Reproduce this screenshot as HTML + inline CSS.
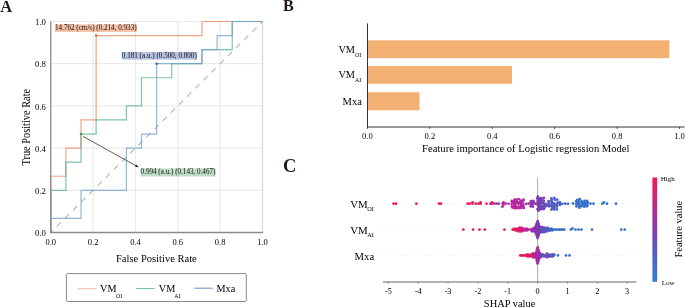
<!DOCTYPE html>
<html><head><meta charset="utf-8"><style>
html,body{margin:0;padding:0;background:#fff;width:685px;height:308px;overflow:hidden}
svg{display:block;will-change:transform}
svg text{font-family:"Liberation Serif",serif}
</style></head><body>
<svg width="685" height="308" viewBox="0 0 685 308">
<rect width="685" height="308" fill="#fff"/>
<g id="A">
<text x="0.3" y="12" font-size="16.5" font-weight="bold" fill="#231815">A</text>
<line x1="93.10" y1="21.50" x2="93.10" y2="232.50" stroke="#ebebeb" stroke-width="1.2"/>
<line x1="50.75" y1="190.30" x2="262.50" y2="190.30" stroke="#ebebeb" stroke-width="1.2"/>
<line x1="135.45" y1="21.50" x2="135.45" y2="232.50" stroke="#ebebeb" stroke-width="1.2"/>
<line x1="50.75" y1="148.10" x2="262.50" y2="148.10" stroke="#ebebeb" stroke-width="1.2"/>
<line x1="177.80" y1="21.50" x2="177.80" y2="232.50" stroke="#ebebeb" stroke-width="1.2"/>
<line x1="50.75" y1="105.90" x2="262.50" y2="105.90" stroke="#ebebeb" stroke-width="1.2"/>
<line x1="220.15" y1="21.50" x2="220.15" y2="232.50" stroke="#ebebeb" stroke-width="1.2"/>
<line x1="50.75" y1="63.70" x2="262.50" y2="63.70" stroke="#ebebeb" stroke-width="1.2"/>
<line x1="262.50" y1="21.50" x2="262.50" y2="232.50" stroke="#d8d8dc" stroke-width="1.2"/>
<line x1="50.75" y1="21.50" x2="262.50" y2="21.50" stroke="#ebebeb" stroke-width="1.2"/>
<line x1="50.75" y1="232.5" x2="262.5" y2="21.5" stroke="#b4b4b4" stroke-width="1.1" stroke-dasharray="5.9 5.6" stroke-dashoffset="2.97"/>
<path d="M50.75,232.50 L50.75,176.23 L65.88,176.23 L65.88,148.10 L81.00,148.10 L81.00,119.97 L96.12,119.97 L96.12,35.57 L202.00,35.57 L202.00,21.50 L262.50,21.50" fill="none" stroke="#ec865e" stroke-opacity="0.75" stroke-width="1.2"/>
<path d="M50.75,232.50 L50.75,190.30 L65.88,190.30 L65.88,162.17 L81.00,162.17 L81.00,134.03 L96.12,134.03 L96.12,119.97 L126.38,119.97 L126.38,105.90 L141.50,105.90 L141.50,77.77 L171.75,77.77 L171.75,63.70 L202.00,63.70 L202.00,49.63 L232.25,49.63 L232.25,21.50 L262.50,21.50" fill="none" stroke="#56b08b" stroke-opacity="0.75" stroke-width="1.2"/>
<path d="M50.75,232.50 L50.75,218.43 L81.00,218.43 L81.00,190.30 L126.38,190.30 L126.38,148.10 L141.50,148.10 L141.50,134.03 L156.62,134.03 L156.62,63.70 L202.00,63.70 L202.00,49.63 L217.12,49.63 L217.12,35.57 L232.25,35.57 L232.25,21.50 L262.50,21.50" fill="none" stroke="#6e9ecc" stroke-opacity="0.75" stroke-width="1.2"/>
<line x1="50.75" y1="21.5" x2="50.75" y2="233.1" stroke="#8a8a8a" stroke-width="1.3"/>
<line x1="50.15" y1="232.5" x2="263.1" y2="232.5" stroke="#8a8a8a" stroke-width="1.3"/>
<text x="45.9" y="236.10" font-size="8.7" text-anchor="end" fill="#000">0.0</text>
<text x="50.75" y="245.2" font-size="8.5" text-anchor="middle" fill="#000">0.0</text>
<text x="45.9" y="193.90" font-size="8.7" text-anchor="end" fill="#000">0.2</text>
<text x="93.10" y="245.2" font-size="8.5" text-anchor="middle" fill="#000">0.2</text>
<text x="45.9" y="151.70" font-size="8.7" text-anchor="end" fill="#000">0.4</text>
<text x="135.45" y="245.2" font-size="8.5" text-anchor="middle" fill="#000">0.4</text>
<text x="45.9" y="109.50" font-size="8.7" text-anchor="end" fill="#000">0.6</text>
<text x="177.80" y="245.2" font-size="8.5" text-anchor="middle" fill="#000">0.6</text>
<text x="45.9" y="67.30" font-size="8.7" text-anchor="end" fill="#000">0.8</text>
<text x="220.15" y="245.2" font-size="8.5" text-anchor="middle" fill="#000">0.8</text>
<text x="45.9" y="25.10" font-size="8.7" text-anchor="end" fill="#000">1.0</text>
<text x="262.50" y="245.2" font-size="8.5" text-anchor="middle" fill="#000">1.0</text>
<text transform="translate(29.7,165.5) rotate(-90)" font-size="11.6" textLength="76.6" lengthAdjust="spacingAndGlyphs" fill="#000">True Positive Rate</text>
<text x="116.0" y="262.1" font-size="10.9" textLength="80.8" lengthAdjust="spacingAndGlyphs" fill="#000">False Positive Rate</text>
<rect x="54.9" y="24.4" width="82.1" height="7.5" fill="#f7bfa3"/>
<text x="55.0" y="30.1" font-size="7.2" fill="#111" lengthAdjust="spacingAndGlyphs" textLength="81.6">14.762 (cm/s) (0.214, 0.933)</text>
<rect x="121.8" y="52.0" width="75.3" height="7.6" fill="#b7c2e2"/>
<text x="121.8" y="57.5" font-size="7.2" fill="#111" lengthAdjust="spacingAndGlyphs" textLength="75.0">0.181 (a.u.) (0.500, 0.800)</text>
<rect x="140.6" y="168.4" width="75.1" height="8.1" fill="#bfdcc8"/>
<text x="140.6" y="174.1" font-size="7.2" fill="#111" lengthAdjust="spacingAndGlyphs" textLength="74.8">0.994 (a.u.) (0.143, 0.467)</text>
<line x1="82.9" y1="136.3" x2="136.2" y2="165.9" stroke="#444" stroke-width="0.85"/>
<path d="M138.8,167.3 L135.0,166.7 L136.3,164.4 Z" fill="#222"/>
<circle cx="96.12" cy="35.57" r="1.3" fill="#e8602c"/>
<circle cx="156.62" cy="63.70" r="1.3" fill="#3a6fb0"/>
<circle cx="81.00" cy="134.03" r="1.3" fill="#3f9a70"/>
<rect x="66.4" y="273.6" width="179.9" height="27.9" rx="1.2" fill="#fff" stroke="#8a8a8a" stroke-width="1"/>
<line x1="78" y1="288.7" x2="96.6" y2="288.7" stroke="#f5bca8" stroke-width="1.1"/>
<line x1="136.2" y1="288.5" x2="154.7" y2="288.5" stroke="#7cc3a8" stroke-width="1.1"/>
<line x1="194.1" y1="288.2" x2="212.7" y2="288.2" stroke="#6f9dcc" stroke-width="1.1"/>
<text x="100.1" y="291.7" font-size="10.2" fill="#000">VM</text><text x="116" y="298.3" font-size="5.8" fill="#000">OI</text>
<text x="158.8" y="291.7" font-size="10.2" fill="#000">VM</text><text x="174.3" y="298.3" font-size="5.8" fill="#000">AI</text>
<text x="216.5" y="291.5" font-size="10.2" fill="#000">Mxa</text>
</g>
<g id="B">
<text x="283.1" y="11.4" font-size="16.2" font-weight="bold" fill="#231815">B</text>
<rect x="367.5" y="40.3" width="301.90" height="17.90" fill="#f2b173"/>
<rect x="367.5" y="66.0" width="144.50" height="17.80" fill="#f2b173"/>
<rect x="367.5" y="92.2" width="52.00" height="18.10" fill="#f2b173"/>
<line x1="367.5" y1="23.4" x2="367.5" y2="127.5" stroke="#333" stroke-width="1"/>
<line x1="367.0" y1="127" x2="684.5" y2="127" stroke="#333" stroke-width="1"/>
<line x1="367.40" y1="127" x2="367.40" y2="129" stroke="#333" stroke-width="0.8"/>
<text x="367.40" y="138.8" font-size="8.5" text-anchor="middle" fill="#000">0.0</text>
<line x1="429.82" y1="127" x2="429.82" y2="129" stroke="#333" stroke-width="0.8"/>
<text x="429.82" y="138.8" font-size="8.5" text-anchor="middle" fill="#000">0.2</text>
<line x1="492.24" y1="127" x2="492.24" y2="129" stroke="#333" stroke-width="0.8"/>
<text x="492.24" y="138.8" font-size="8.5" text-anchor="middle" fill="#000">0.4</text>
<line x1="554.66" y1="127" x2="554.66" y2="129" stroke="#333" stroke-width="0.8"/>
<text x="554.66" y="138.8" font-size="8.5" text-anchor="middle" fill="#000">0.6</text>
<line x1="617.08" y1="127" x2="617.08" y2="129" stroke="#333" stroke-width="0.8"/>
<text x="617.08" y="138.8" font-size="8.5" text-anchor="middle" fill="#000">0.8</text>
<line x1="679.50" y1="127" x2="679.50" y2="129" stroke="#333" stroke-width="0.8"/>
<text x="679.50" y="138.8" font-size="8.5" text-anchor="middle" fill="#000">1.0</text>
<text x="525.8" y="152.3" font-size="10.6" text-anchor="middle" fill="#000">Feature importance of Logistic regression Model</text>
<text x="338.4" y="52.8" font-size="10.3" fill="#000">VM</text><text x="355" y="56.7" font-size="5.9" fill="#000">OI</text>
<text x="338.4" y="78.4" font-size="10.3" fill="#000">VM</text><text x="355" y="82.3" font-size="5.9" fill="#000">AI</text>
<text x="361.8" y="105.1" font-size="10.5" text-anchor="end" fill="#000">Mxa</text>
</g>
<g id="C">
<text x="283.0" y="171.6" font-size="18.4" font-weight="bold" fill="#231815">C</text>
<line x1="382.9" y1="203.7" x2="636.5" y2="203.7" stroke="#e2e2e2" stroke-width="0.6" stroke-dasharray="0.8 1.6"/>
<line x1="382.9" y1="229.6" x2="636.5" y2="229.6" stroke="#e2e2e2" stroke-width="0.6" stroke-dasharray="0.8 1.6"/>
<line x1="382.9" y1="255.4" x2="636.5" y2="255.4" stroke="#e2e2e2" stroke-width="0.6" stroke-dasharray="0.8 1.6"/>
<line x1="537.6" y1="177.6" x2="537.6" y2="281.7" stroke="#aaa" stroke-width="1"/>
<circle cx="393.60" cy="203.70" r="1.35" fill="#f01858"/><circle cx="396.00" cy="203.70" r="1.35" fill="#f01858"/><circle cx="416.40" cy="203.70" r="1.35" fill="#f01858"/><circle cx="439.00" cy="203.70" r="1.35" fill="#f01858"/><circle cx="441.00" cy="203.70" r="1.35" fill="#f01858"/><circle cx="467.60" cy="203.70" r="1.35" fill="#f01858"/><circle cx="469.60" cy="203.70" r="1.35" fill="#f01858"/><circle cx="472.50" cy="203.70" r="1.35" fill="#f01858"/><circle cx="472.50" cy="202.30" r="1.35" fill="#f01858"/><circle cx="475.80" cy="203.70" r="1.35" fill="#f01858"/><circle cx="478.50" cy="203.70" r="1.35" fill="#f01858"/><circle cx="480.60" cy="203.70" r="1.35" fill="#f01858"/><circle cx="480.60" cy="202.30" r="1.35" fill="#ed195c"/><circle cx="486.50" cy="203.70" r="1.35" fill="#eb195e"/><circle cx="490.50" cy="203.70" r="1.35" fill="#e81a62"/><circle cx="492.00" cy="203.70" r="1.35" fill="#e81a62"/><circle cx="492.00" cy="202.30" r="1.35" fill="#e81a62"/><circle cx="494.24" cy="203.49" r="1.35" fill="#aa2aa3"/><circle cx="496.40" cy="203.72" r="1.35" fill="#a12ea6"/><circle cx="498.72" cy="203.70" r="1.35" fill="#9732aa"/><circle cx="502.65" cy="203.44" r="1.35" fill="#ae29a2"/><circle cx="503.53" cy="204.87" r="1.35" fill="#b127a1"/><circle cx="503.61" cy="202.35" r="1.35" fill="#b526a0"/><circle cx="502.38" cy="206.72" r="1.35" fill="#b327a0"/><circle cx="505.81" cy="203.59" r="1.35" fill="#b7259f"/><circle cx="508.60" cy="203.75" r="1.35" fill="#b128a1"/><circle cx="511.74" cy="203.73" r="1.35" fill="#ae29a2"/><circle cx="512.55" cy="202.26" r="1.35" fill="#b426a0"/><circle cx="511.79" cy="206.38" r="1.35" fill="#be2399"/><circle cx="511.65" cy="200.94" r="1.35" fill="#b9249e"/><circle cx="512.59" cy="207.77" r="1.35" fill="#c12395"/><circle cx="514.02" cy="203.85" r="1.35" fill="#ad29a2"/><circle cx="514.35" cy="205.20" r="1.35" fill="#bb249d"/><circle cx="514.94" cy="202.19" r="1.35" fill="#ba249e"/><circle cx="514.13" cy="206.47" r="1.35" fill="#bc249b"/><circle cx="514.06" cy="201.00" r="1.35" fill="#ab2aa3"/><circle cx="514.78" cy="208.20" r="1.35" fill="#bc249b"/><circle cx="514.60" cy="199.60" r="1.35" fill="#aa2aa3"/><circle cx="516.30" cy="203.50" r="1.35" fill="#a92ba4"/><circle cx="516.67" cy="202.15" r="1.35" fill="#b028a1"/><circle cx="516.03" cy="206.47" r="1.35" fill="#b327a0"/><circle cx="516.55" cy="201.12" r="1.35" fill="#ad29a2"/><circle cx="516.83" cy="208.13" r="1.35" fill="#bc249b"/><circle cx="516.70" cy="199.34" r="1.35" fill="#ac2aa3"/><circle cx="518.56" cy="203.75" r="1.35" fill="#aa2aa3"/><circle cx="519.08" cy="202.34" r="1.35" fill="#ba249e"/><circle cx="518.59" cy="206.57" r="1.35" fill="#b327a0"/><circle cx="519.37" cy="208.12" r="1.35" fill="#b6269f"/><circle cx="519.10" cy="199.26" r="1.35" fill="#b227a1"/><circle cx="520.52" cy="203.44" r="1.35" fill="#a52ca5"/><circle cx="521.31" cy="204.83" r="1.35" fill="#a12ea6"/><circle cx="521.15" cy="202.22" r="1.35" fill="#a12ea6"/><circle cx="520.90" cy="206.29" r="1.35" fill="#a62ca5"/><circle cx="520.73" cy="200.67" r="1.35" fill="#b426a0"/><circle cx="521.40" cy="207.89" r="1.35" fill="#a32da6"/><circle cx="522.96" cy="203.56" r="1.35" fill="#b128a1"/><circle cx="523.34" cy="205.37" r="1.35" fill="#aa2ba3"/><circle cx="522.74" cy="206.52" r="1.35" fill="#b426a0"/><circle cx="523.21" cy="200.76" r="1.35" fill="#a62ca5"/><circle cx="523.87" cy="207.92" r="1.35" fill="#b028a1"/><circle cx="523.48" cy="199.69" r="1.35" fill="#b426a0"/><circle cx="526.20" cy="203.88" r="1.35" fill="#a82ba4"/><circle cx="528.62" cy="203.54" r="1.35" fill="#9c30a8"/><circle cx="530.72" cy="203.42" r="1.35" fill="#8838af"/><circle cx="531.26" cy="205.22" r="1.35" fill="#9d2fa8"/><circle cx="531.73" cy="202.59" r="1.35" fill="#9d2fa8"/><circle cx="530.63" cy="206.34" r="1.35" fill="#8c36ad"/><circle cx="530.91" cy="201.14" r="1.35" fill="#9b31a8"/><circle cx="533.06" cy="203.79" r="1.35" fill="#9533aa"/><circle cx="533.96" cy="202.47" r="1.35" fill="#9433ab"/><circle cx="532.85" cy="206.67" r="1.35" fill="#8a37ae"/><circle cx="533.41" cy="200.84" r="1.35" fill="#8c36ad"/><circle cx="535.51" cy="203.83" r="1.35" fill="#803bb1"/><circle cx="537.29" cy="203.49" r="1.35" fill="#8a37ae"/><circle cx="537.90" cy="205.30" r="1.35" fill="#8b37ae"/><circle cx="538.05" cy="202.33" r="1.35" fill="#7940b4"/><circle cx="537.65" cy="200.92" r="1.35" fill="#8a37ae"/><circle cx="538.41" cy="208.10" r="1.35" fill="#7a3fb3"/><circle cx="538.01" cy="199.34" r="1.35" fill="#823ab1"/><circle cx="537.49" cy="209.08" r="1.35" fill="#8a37ae"/><circle cx="537.52" cy="198.15" r="1.35" fill="#8a37ae"/><circle cx="538.44" cy="210.70" r="1.35" fill="#813bb1"/><circle cx="537.81" cy="196.66" r="1.35" fill="#7a3fb4"/><circle cx="539.30" cy="203.88" r="1.35" fill="#7542b5"/><circle cx="540.41" cy="205.13" r="1.35" fill="#7940b4"/><circle cx="540.29" cy="202.47" r="1.35" fill="#7443b5"/><circle cx="539.47" cy="206.37" r="1.35" fill="#823ab1"/><circle cx="539.69" cy="201.06" r="1.35" fill="#8539b0"/><circle cx="540.33" cy="207.90" r="1.35" fill="#7c3db3"/><circle cx="540.22" cy="199.52" r="1.35" fill="#7c3eb3"/><circle cx="539.79" cy="209.53" r="1.35" fill="#8639af"/><circle cx="539.69" cy="198.37" r="1.35" fill="#843ab0"/><circle cx="541.66" cy="203.44" r="1.35" fill="#6b49b9"/><circle cx="542.50" cy="202.54" r="1.35" fill="#694bb9"/><circle cx="541.81" cy="206.29" r="1.35" fill="#7840b4"/><circle cx="541.50" cy="201.17" r="1.35" fill="#6e47b8"/><circle cx="542.64" cy="208.10" r="1.35" fill="#694bb9"/><circle cx="542.31" cy="199.40" r="1.35" fill="#6a4ab9"/><circle cx="541.86" cy="209.01" r="1.35" fill="#7145b7"/><circle cx="541.36" cy="198.00" r="1.35" fill="#7244b6"/><circle cx="543.71" cy="203.44" r="1.35" fill="#7642b5"/><circle cx="544.63" cy="204.86" r="1.35" fill="#674cba"/><circle cx="543.54" cy="206.28" r="1.35" fill="#6a4ab9"/><circle cx="543.92" cy="200.76" r="1.35" fill="#654ebb"/><circle cx="544.35" cy="208.02" r="1.35" fill="#644ebb"/><circle cx="543.65" cy="209.04" r="1.35" fill="#7542b5"/><circle cx="543.91" cy="197.85" r="1.35" fill="#7344b6"/><circle cx="545.77" cy="203.92" r="1.35" fill="#6150bc"/><circle cx="546.71" cy="205.36" r="1.35" fill="#5d53bd"/><circle cx="545.89" cy="206.27" r="1.35" fill="#5b54be"/><circle cx="548.62" cy="203.59" r="1.35" fill="#5a55bf"/><circle cx="549.28" cy="205.10" r="1.35" fill="#5857bf"/><circle cx="549.09" cy="202.15" r="1.35" fill="#5459c1"/><circle cx="548.86" cy="206.31" r="1.35" fill="#5d53bd"/><circle cx="548.55" cy="201.09" r="1.35" fill="#5d53be"/><circle cx="551.53" cy="203.90" r="1.35" fill="#525bc1"/><circle cx="552.26" cy="205.39" r="1.35" fill="#515cc2"/><circle cx="552.28" cy="202.38" r="1.35" fill="#525bc1"/><circle cx="551.22" cy="206.28" r="1.35" fill="#4b5fc4"/><circle cx="551.36" cy="200.70" r="1.35" fill="#4c5fc4"/><circle cx="552.39" cy="208.00" r="1.35" fill="#505cc2"/><circle cx="551.99" cy="199.48" r="1.35" fill="#4d5ec3"/><circle cx="551.37" cy="209.58" r="1.35" fill="#5d53bd"/><circle cx="551.35" cy="198.38" r="1.35" fill="#505cc2"/><circle cx="554.10" cy="203.40" r="1.35" fill="#4e5ec3"/><circle cx="554.80" cy="204.92" r="1.35" fill="#505cc2"/><circle cx="553.91" cy="206.44" r="1.35" fill="#4763c5"/><circle cx="554.61" cy="207.95" r="1.35" fill="#515cc2"/><circle cx="554.91" cy="199.63" r="1.35" fill="#5857bf"/><circle cx="554.08" cy="209.59" r="1.35" fill="#4961c5"/><circle cx="554.30" cy="197.83" r="1.35" fill="#5758c0"/><circle cx="557.14" cy="203.78" r="1.35" fill="#515cc2"/><circle cx="557.21" cy="205.11" r="1.35" fill="#4c5fc3"/><circle cx="557.68" cy="202.50" r="1.35" fill="#4e5ec3"/><circle cx="556.99" cy="206.62" r="1.35" fill="#4763c5"/><circle cx="557.19" cy="199.70" r="1.35" fill="#4d5ec3"/><circle cx="556.96" cy="209.41" r="1.35" fill="#4c5fc4"/><circle cx="559.66" cy="203.85" r="1.35" fill="#4465c6"/><circle cx="560.16" cy="204.84" r="1.35" fill="#4961c5"/><circle cx="559.75" cy="202.16" r="1.35" fill="#4961c5"/><circle cx="562.33" cy="203.84" r="1.35" fill="#4763c5"/><circle cx="565.20" cy="203.63" r="1.35" fill="#3c6ac9"/><circle cx="568.00" cy="203.86" r="1.35" fill="#3d69c9"/><circle cx="573.05" cy="203.45" r="1.35" fill="#3172cd"/><circle cx="576.28" cy="203.85" r="1.35" fill="#3271cd"/><circle cx="576.71" cy="204.84" r="1.35" fill="#3172cd"/><circle cx="577.18" cy="202.41" r="1.35" fill="#3271cd"/><circle cx="576.43" cy="206.48" r="1.35" fill="#2e74ce"/><circle cx="576.24" cy="201.19" r="1.35" fill="#3f68c8"/><circle cx="577.27" cy="199.78" r="1.35" fill="#356fcc"/><circle cx="578.79" cy="203.53" r="1.35" fill="#3f68c8"/><circle cx="579.61" cy="204.89" r="1.35" fill="#366ecb"/><circle cx="579.29" cy="202.49" r="1.35" fill="#366ecb"/><circle cx="579.09" cy="206.34" r="1.35" fill="#3e69c8"/><circle cx="578.62" cy="200.60" r="1.35" fill="#366fcb"/><circle cx="579.41" cy="207.68" r="1.35" fill="#3371cc"/><circle cx="579.79" cy="199.20" r="1.35" fill="#3b6bc9"/><circle cx="581.94" cy="203.47" r="1.35" fill="#3d6ac9"/><circle cx="582.58" cy="204.97" r="1.35" fill="#3172cd"/><circle cx="582.65" cy="202.35" r="1.35" fill="#3172cd"/><circle cx="581.54" cy="206.23" r="1.35" fill="#2e74ce"/><circle cx="581.55" cy="201.16" r="1.35" fill="#2f73ce"/><circle cx="584.29" cy="203.71" r="1.35" fill="#2e74ce"/><circle cx="585.37" cy="205.33" r="1.35" fill="#3a6bca"/><circle cx="585.34" cy="202.56" r="1.35" fill="#356fcc"/><circle cx="584.13" cy="206.64" r="1.35" fill="#3370cc"/><circle cx="584.55" cy="200.77" r="1.35" fill="#2e74ce"/><circle cx="587.25" cy="203.48" r="1.35" fill="#3370cc"/><circle cx="587.41" cy="205.24" r="1.35" fill="#3e69c9"/><circle cx="587.66" cy="202.18" r="1.35" fill="#356fcb"/><circle cx="586.72" cy="206.30" r="1.35" fill="#2e74ce"/><circle cx="586.95" cy="200.73" r="1.35" fill="#3c6ac9"/><circle cx="590.50" cy="203.70" r="1.35" fill="#3271cd"/><circle cx="593.50" cy="203.70" r="1.35" fill="#3271cd"/><circle cx="602.30" cy="203.70" r="1.35" fill="#3271cd"/><circle cx="604.00" cy="202.40" r="1.35" fill="#3271cd"/><circle cx="607.00" cy="203.70" r="1.35" fill="#3271cd"/><circle cx="616.00" cy="203.70" r="1.35" fill="#2e74ce"/><circle cx="463.30" cy="229.60" r="1.35" fill="#f01858"/><circle cx="473.10" cy="229.60" r="1.35" fill="#f01858"/><circle cx="479.50" cy="229.60" r="1.35" fill="#f01858"/><circle cx="484.80" cy="229.60" r="1.35" fill="#f01858"/><circle cx="504.40" cy="229.60" r="1.35" fill="#f01858"/><circle cx="512.65" cy="229.60" r="1.35" fill="#ea195f"/><circle cx="513.87" cy="229.60" r="1.35" fill="#e91a61"/><circle cx="513.91" cy="228.75" r="1.35" fill="#f01858"/><circle cx="515.82" cy="229.60" r="1.35" fill="#e71a64"/><circle cx="515.56" cy="230.45" r="1.35" fill="#e11b6b"/><circle cx="515.98" cy="228.75" r="1.35" fill="#e81a62"/><circle cx="517.31" cy="229.60" r="1.35" fill="#e01b6c"/><circle cx="517.04" cy="230.45" r="1.35" fill="#e41b68"/><circle cx="517.46" cy="228.75" r="1.35" fill="#dd1c70"/><circle cx="518.51" cy="229.60" r="1.35" fill="#e41b68"/><circle cx="518.89" cy="230.45" r="1.35" fill="#dc1d72"/><circle cx="519.06" cy="228.75" r="1.35" fill="#e51a66"/><circle cx="518.56" cy="231.30" r="1.35" fill="#de1c70"/><circle cx="519.14" cy="227.90" r="1.35" fill="#e01c6d"/><circle cx="520.69" cy="229.60" r="1.35" fill="#d91d76"/><circle cx="520.31" cy="228.75" r="1.35" fill="#da1d74"/><circle cx="520.24" cy="231.30" r="1.35" fill="#da1d74"/><circle cx="520.23" cy="227.90" r="1.35" fill="#d91d76"/><circle cx="522.22" cy="229.60" r="1.35" fill="#ce1f83"/><circle cx="521.82" cy="230.45" r="1.35" fill="#d21f7f"/><circle cx="522.27" cy="228.75" r="1.35" fill="#d21f7e"/><circle cx="521.99" cy="231.30" r="1.35" fill="#d61e7a"/><circle cx="521.83" cy="227.90" r="1.35" fill="#d61e7a"/><circle cx="523.78" cy="229.60" r="1.35" fill="#c8218b"/><circle cx="523.64" cy="230.45" r="1.35" fill="#c32292"/><circle cx="523.96" cy="228.75" r="1.35" fill="#ca2089"/><circle cx="525.67" cy="229.60" r="1.35" fill="#bc249c"/><circle cx="525.37" cy="230.45" r="1.35" fill="#bc249b"/><circle cx="525.68" cy="228.75" r="1.35" fill="#c8218c"/><circle cx="527.16" cy="229.60" r="1.35" fill="#b526a0"/><circle cx="527.28" cy="230.45" r="1.35" fill="#b327a0"/><circle cx="526.97" cy="228.75" r="1.35" fill="#b327a0"/><circle cx="528.44" cy="229.60" r="1.35" fill="#ac2aa3"/><circle cx="530.53" cy="229.60" r="1.35" fill="#af28a2"/><circle cx="532.40" cy="229.60" r="1.35" fill="#9a31a9"/><circle cx="532.22" cy="228.75" r="1.35" fill="#a22ea6"/><circle cx="531.96" cy="231.30" r="1.35" fill="#9632aa"/><circle cx="534.00" cy="229.60" r="1.35" fill="#a22da6"/><circle cx="533.95" cy="228.75" r="1.35" fill="#9f2fa7"/><circle cx="534.10" cy="231.30" r="1.35" fill="#9732aa"/><circle cx="534.44" cy="227.90" r="1.35" fill="#9533aa"/><circle cx="537.72" cy="221.10" r="1.35" fill="#7c3db3"/><circle cx="537.57" cy="221.95" r="1.35" fill="#8b37ae"/><circle cx="537.68" cy="222.80" r="1.35" fill="#7d3db2"/><circle cx="537.46" cy="223.65" r="1.35" fill="#7d3db2"/><circle cx="537.73" cy="224.50" r="1.35" fill="#803bb1"/><circle cx="537.67" cy="225.35" r="1.35" fill="#8c36ad"/><circle cx="537.55" cy="226.20" r="1.35" fill="#813bb1"/><circle cx="537.74" cy="227.05" r="1.35" fill="#8738af"/><circle cx="537.53" cy="227.90" r="1.35" fill="#8938ae"/><circle cx="537.54" cy="228.75" r="1.35" fill="#813bb1"/><circle cx="537.45" cy="229.60" r="1.35" fill="#8a37ae"/><circle cx="537.72" cy="230.45" r="1.35" fill="#8738af"/><circle cx="537.73" cy="231.30" r="1.35" fill="#7c3db3"/><circle cx="537.52" cy="232.15" r="1.35" fill="#8439b0"/><circle cx="537.74" cy="233.00" r="1.35" fill="#8d36ad"/><circle cx="537.57" cy="233.85" r="1.35" fill="#803bb1"/><circle cx="537.58" cy="234.70" r="1.35" fill="#8539b0"/><circle cx="537.73" cy="235.55" r="1.35" fill="#7f3cb2"/><circle cx="537.69" cy="236.40" r="1.35" fill="#8937ae"/><circle cx="537.70" cy="237.25" r="1.35" fill="#8a37ae"/><circle cx="537.63" cy="238.10" r="1.35" fill="#823bb1"/><circle cx="536.65" cy="223.65" r="1.35" fill="#823ab1"/><circle cx="536.78" cy="224.50" r="1.35" fill="#7d3db2"/><circle cx="536.61" cy="225.35" r="1.35" fill="#8a37ae"/><circle cx="536.62" cy="226.20" r="1.35" fill="#7d3db2"/><circle cx="536.56" cy="227.05" r="1.35" fill="#8639af"/><circle cx="536.65" cy="227.90" r="1.35" fill="#8e36ad"/><circle cx="536.82" cy="228.75" r="1.35" fill="#8e36ad"/><circle cx="536.63" cy="229.60" r="1.35" fill="#7d3cb2"/><circle cx="536.58" cy="230.45" r="1.35" fill="#8539b0"/><circle cx="536.76" cy="231.30" r="1.35" fill="#843ab0"/><circle cx="536.62" cy="232.15" r="1.35" fill="#833ab0"/><circle cx="536.74" cy="233.00" r="1.35" fill="#8838af"/><circle cx="536.77" cy="233.85" r="1.35" fill="#8b37ae"/><circle cx="536.75" cy="234.70" r="1.35" fill="#7e3cb2"/><circle cx="536.80" cy="235.55" r="1.35" fill="#813bb1"/><circle cx="538.52" cy="223.65" r="1.35" fill="#833ab0"/><circle cx="538.57" cy="224.50" r="1.35" fill="#7f3bb2"/><circle cx="538.42" cy="225.35" r="1.35" fill="#803bb1"/><circle cx="538.40" cy="226.20" r="1.35" fill="#8c36ad"/><circle cx="538.52" cy="227.05" r="1.35" fill="#823bb1"/><circle cx="538.47" cy="227.90" r="1.35" fill="#8e36ad"/><circle cx="538.50" cy="228.75" r="1.35" fill="#803bb1"/><circle cx="538.59" cy="229.60" r="1.35" fill="#8838af"/><circle cx="538.65" cy="230.45" r="1.35" fill="#7e3cb2"/><circle cx="538.49" cy="231.30" r="1.35" fill="#8b37ae"/><circle cx="538.60" cy="232.15" r="1.35" fill="#8d36ad"/><circle cx="538.36" cy="233.00" r="1.35" fill="#813bb1"/><circle cx="538.39" cy="233.85" r="1.35" fill="#7f3cb2"/><circle cx="538.64" cy="234.70" r="1.35" fill="#8639af"/><circle cx="538.63" cy="235.55" r="1.35" fill="#833ab0"/><circle cx="535.91" cy="226.20" r="1.35" fill="#843ab0"/><circle cx="535.73" cy="227.05" r="1.35" fill="#8a37ae"/><circle cx="535.93" cy="227.90" r="1.35" fill="#7e3cb2"/><circle cx="535.83" cy="228.75" r="1.35" fill="#8738af"/><circle cx="535.72" cy="229.60" r="1.35" fill="#823ab1"/><circle cx="535.69" cy="230.45" r="1.35" fill="#7f3bb2"/><circle cx="535.73" cy="231.30" r="1.35" fill="#8738af"/><circle cx="535.85" cy="232.15" r="1.35" fill="#7f3bb2"/><circle cx="535.65" cy="233.00" r="1.35" fill="#823bb1"/><circle cx="539.45" cy="226.20" r="1.35" fill="#7f3cb2"/><circle cx="539.34" cy="227.05" r="1.35" fill="#7f3bb2"/><circle cx="539.49" cy="227.90" r="1.35" fill="#8639af"/><circle cx="539.27" cy="228.75" r="1.35" fill="#7e3cb2"/><circle cx="539.37" cy="229.60" r="1.35" fill="#8639af"/><circle cx="539.44" cy="230.45" r="1.35" fill="#7d3cb2"/><circle cx="539.30" cy="231.30" r="1.35" fill="#8938ae"/><circle cx="539.37" cy="232.15" r="1.35" fill="#813bb1"/><circle cx="539.34" cy="233.00" r="1.35" fill="#8d36ad"/><circle cx="540.67" cy="229.60" r="1.35" fill="#684bba"/><circle cx="541.05" cy="230.45" r="1.35" fill="#684bba"/><circle cx="540.59" cy="231.30" r="1.35" fill="#7344b6"/><circle cx="541.02" cy="227.90" r="1.35" fill="#7344b6"/><circle cx="540.56" cy="232.15" r="1.35" fill="#6c48b8"/><circle cx="541.09" cy="227.05" r="1.35" fill="#6e47b8"/><circle cx="542.31" cy="229.60" r="1.35" fill="#5f52bd"/><circle cx="542.41" cy="230.45" r="1.35" fill="#5e53bd"/><circle cx="542.61" cy="228.75" r="1.35" fill="#6051bd"/><circle cx="542.73" cy="227.90" r="1.35" fill="#5d53be"/><circle cx="542.32" cy="232.15" r="1.35" fill="#684bba"/><circle cx="542.16" cy="227.05" r="1.35" fill="#6051bc"/><circle cx="543.93" cy="229.60" r="1.35" fill="#674cba"/><circle cx="543.93" cy="228.75" r="1.35" fill="#5e53bd"/><circle cx="544.16" cy="227.90" r="1.35" fill="#5757c0"/><circle cx="544.18" cy="232.15" r="1.35" fill="#674cba"/><circle cx="545.67" cy="229.60" r="1.35" fill="#5d53be"/><circle cx="545.54" cy="230.45" r="1.35" fill="#5956bf"/><circle cx="545.56" cy="228.75" r="1.35" fill="#515cc2"/><circle cx="545.59" cy="231.30" r="1.35" fill="#6051bd"/><circle cx="545.57" cy="227.90" r="1.35" fill="#5a55bf"/><circle cx="547.15" cy="229.60" r="1.35" fill="#545ac1"/><circle cx="546.88" cy="230.45" r="1.35" fill="#4c5fc3"/><circle cx="547.39" cy="228.75" r="1.35" fill="#4c5fc4"/><circle cx="547.11" cy="231.30" r="1.35" fill="#4e5ec3"/><circle cx="547.55" cy="227.90" r="1.35" fill="#5b54be"/><circle cx="548.62" cy="229.60" r="1.35" fill="#4961c5"/><circle cx="549.12" cy="230.45" r="1.35" fill="#4e5dc3"/><circle cx="548.53" cy="228.75" r="1.35" fill="#4e5ec3"/><circle cx="550.26" cy="229.60" r="1.35" fill="#4166c7"/><circle cx="550.25" cy="230.45" r="1.35" fill="#4e5dc3"/><circle cx="550.33" cy="228.75" r="1.35" fill="#4266c7"/><circle cx="551.84" cy="229.60" r="1.35" fill="#3d6ac9"/><circle cx="552.29" cy="230.45" r="1.35" fill="#3d6ac9"/><circle cx="551.90" cy="228.75" r="1.35" fill="#4663c6"/><circle cx="554.26" cy="229.60" r="1.35" fill="#3b6bca"/><circle cx="556.13" cy="229.60" r="1.35" fill="#3172cd"/><circle cx="558.13" cy="229.60" r="1.35" fill="#366ecb"/><circle cx="559.71" cy="229.60" r="1.35" fill="#4266c7"/><circle cx="561.27" cy="229.60" r="1.35" fill="#3d6ac9"/><circle cx="562.89" cy="229.60" r="1.35" fill="#3c6ac9"/><circle cx="564.33" cy="229.60" r="1.35" fill="#3172cd"/><circle cx="570.80" cy="229.60" r="1.35" fill="#3470cc"/><circle cx="572.50" cy="228.40" r="1.35" fill="#3470cc"/><circle cx="575.50" cy="229.60" r="1.35" fill="#3271cd"/><circle cx="578.50" cy="229.60" r="1.35" fill="#3271cd"/><circle cx="581.50" cy="229.60" r="1.35" fill="#3271cd"/><circle cx="592.00" cy="229.60" r="1.35" fill="#3271cd"/><circle cx="621.20" cy="229.60" r="1.35" fill="#2e74ce"/><circle cx="624.70" cy="229.60" r="1.35" fill="#2e74ce"/><circle cx="520.28" cy="255.40" r="1.35" fill="#f01858"/><circle cx="521.68" cy="255.40" r="1.35" fill="#e71a64"/><circle cx="522.61" cy="255.40" r="1.35" fill="#f01858"/><circle cx="524.27" cy="255.40" r="1.35" fill="#f01858"/><circle cx="525.44" cy="255.40" r="1.35" fill="#eb195f"/><circle cx="527.00" cy="255.40" r="1.35" fill="#e41b68"/><circle cx="527.16" cy="256.30" r="1.35" fill="#e11b6b"/><circle cx="527.08" cy="254.50" r="1.35" fill="#ed195c"/><circle cx="528.32" cy="255.40" r="1.35" fill="#dd1c71"/><circle cx="528.76" cy="256.30" r="1.35" fill="#e21b6a"/><circle cx="528.16" cy="254.50" r="1.35" fill="#e41b67"/><circle cx="529.80" cy="255.40" r="1.35" fill="#e01c6d"/><circle cx="530.06" cy="256.30" r="1.35" fill="#e71a63"/><circle cx="531.32" cy="255.40" r="1.35" fill="#da1d74"/><circle cx="530.96" cy="254.50" r="1.35" fill="#e51a66"/><circle cx="532.45" cy="255.40" r="1.35" fill="#d21f7e"/><circle cx="532.80" cy="256.30" r="1.35" fill="#cc2087"/><circle cx="532.56" cy="254.50" r="1.35" fill="#d71e78"/><circle cx="532.85" cy="257.20" r="1.35" fill="#d61e79"/><circle cx="532.68" cy="253.60" r="1.35" fill="#d01f81"/><circle cx="533.91" cy="255.40" r="1.35" fill="#c7218d"/><circle cx="534.27" cy="254.50" r="1.35" fill="#d11f80"/><circle cx="533.94" cy="257.20" r="1.35" fill="#ca2089"/><circle cx="534.12" cy="253.60" r="1.35" fill="#ce2084"/><circle cx="535.83" cy="255.40" r="1.35" fill="#cc2086"/><circle cx="535.32" cy="254.50" r="1.35" fill="#cd2085"/><circle cx="535.38" cy="257.20" r="1.35" fill="#c32292"/><circle cx="535.79" cy="253.60" r="1.35" fill="#c9218a"/><circle cx="537.75" cy="247.30" r="1.35" fill="#b028a1"/><circle cx="537.69" cy="248.20" r="1.35" fill="#ae29a2"/><circle cx="537.76" cy="249.10" r="1.35" fill="#ae29a2"/><circle cx="537.68" cy="250.00" r="1.35" fill="#ac2aa3"/><circle cx="537.72" cy="250.90" r="1.35" fill="#a42da5"/><circle cx="537.61" cy="251.80" r="1.35" fill="#aa2aa3"/><circle cx="537.57" cy="252.70" r="1.35" fill="#af28a2"/><circle cx="537.59" cy="253.60" r="1.35" fill="#9f2fa7"/><circle cx="537.58" cy="254.50" r="1.35" fill="#af28a2"/><circle cx="537.65" cy="255.40" r="1.35" fill="#a12ea6"/><circle cx="537.56" cy="256.30" r="1.35" fill="#9f2fa7"/><circle cx="537.76" cy="257.20" r="1.35" fill="#aa2aa3"/><circle cx="537.76" cy="258.10" r="1.35" fill="#ac2aa3"/><circle cx="537.57" cy="259.00" r="1.35" fill="#a92ba4"/><circle cx="537.66" cy="259.90" r="1.35" fill="#ad29a2"/><circle cx="537.80" cy="260.80" r="1.35" fill="#af28a2"/><circle cx="537.57" cy="261.70" r="1.35" fill="#ae29a2"/><circle cx="537.82" cy="262.60" r="1.35" fill="#b028a1"/><circle cx="537.58" cy="263.50" r="1.35" fill="#a22ea6"/><circle cx="536.78" cy="250.00" r="1.35" fill="#9f2fa7"/><circle cx="537.00" cy="250.90" r="1.35" fill="#ad29a2"/><circle cx="536.94" cy="251.80" r="1.35" fill="#ae29a2"/><circle cx="536.94" cy="252.70" r="1.35" fill="#a42da5"/><circle cx="536.78" cy="253.60" r="1.35" fill="#a02ea7"/><circle cx="536.98" cy="254.50" r="1.35" fill="#a22ea6"/><circle cx="536.85" cy="255.40" r="1.35" fill="#a62ca5"/><circle cx="536.76" cy="256.30" r="1.35" fill="#a32da6"/><circle cx="536.83" cy="257.20" r="1.35" fill="#ac2aa3"/><circle cx="536.86" cy="258.10" r="1.35" fill="#a42da5"/><circle cx="537.04" cy="259.00" r="1.35" fill="#a82ba4"/><circle cx="537.01" cy="259.90" r="1.35" fill="#aa2ba3"/><circle cx="536.76" cy="260.80" r="1.35" fill="#a62ca5"/><circle cx="538.48" cy="250.00" r="1.35" fill="#ad29a2"/><circle cx="538.45" cy="250.90" r="1.35" fill="#ab2aa3"/><circle cx="538.51" cy="251.80" r="1.35" fill="#a22da6"/><circle cx="538.61" cy="252.70" r="1.35" fill="#a02ea7"/><circle cx="538.60" cy="253.60" r="1.35" fill="#a12ea6"/><circle cx="538.35" cy="254.50" r="1.35" fill="#a22ea6"/><circle cx="538.58" cy="255.40" r="1.35" fill="#b028a1"/><circle cx="538.35" cy="256.30" r="1.35" fill="#a72ba4"/><circle cx="538.50" cy="257.20" r="1.35" fill="#ad29a2"/><circle cx="538.41" cy="258.10" r="1.35" fill="#a72ba4"/><circle cx="538.45" cy="259.00" r="1.35" fill="#ae29a2"/><circle cx="538.43" cy="259.90" r="1.35" fill="#b028a1"/><circle cx="538.44" cy="260.80" r="1.35" fill="#a22da6"/><circle cx="536.16" cy="252.70" r="1.35" fill="#a82ba4"/><circle cx="535.98" cy="253.60" r="1.35" fill="#aa2aa3"/><circle cx="535.97" cy="254.50" r="1.35" fill="#ad29a2"/><circle cx="536.16" cy="255.40" r="1.35" fill="#ad29a2"/><circle cx="536.14" cy="256.30" r="1.35" fill="#a52ca5"/><circle cx="536.07" cy="257.20" r="1.35" fill="#a62ca5"/><circle cx="536.22" cy="258.10" r="1.35" fill="#a02ea7"/><circle cx="539.42" cy="252.70" r="1.35" fill="#9f2fa7"/><circle cx="539.21" cy="253.60" r="1.35" fill="#a32da6"/><circle cx="539.42" cy="254.50" r="1.35" fill="#a82ba4"/><circle cx="539.26" cy="255.40" r="1.35" fill="#af29a2"/><circle cx="539.22" cy="256.30" r="1.35" fill="#a72ca4"/><circle cx="539.31" cy="257.20" r="1.35" fill="#ac2aa3"/><circle cx="539.38" cy="258.10" r="1.35" fill="#aa2aa3"/><circle cx="540.04" cy="255.40" r="1.35" fill="#7c3db3"/><circle cx="540.26" cy="256.30" r="1.35" fill="#7c3db3"/><circle cx="540.34" cy="254.50" r="1.35" fill="#7c3eb3"/><circle cx="540.42" cy="257.20" r="1.35" fill="#7d3db2"/><circle cx="540.29" cy="253.60" r="1.35" fill="#7c3db3"/><circle cx="541.59" cy="255.40" r="1.35" fill="#6b49b9"/><circle cx="541.60" cy="256.30" r="1.35" fill="#684bba"/><circle cx="541.99" cy="254.50" r="1.35" fill="#7840b4"/><circle cx="543.22" cy="255.40" r="1.35" fill="#7543b5"/><circle cx="543.66" cy="256.30" r="1.35" fill="#654ebb"/><circle cx="543.22" cy="254.50" r="1.35" fill="#694bb9"/><circle cx="544.84" cy="255.40" r="1.35" fill="#6d48b8"/><circle cx="545.17" cy="256.30" r="1.35" fill="#674cba"/><circle cx="547.07" cy="255.40" r="1.35" fill="#6d48b8"/><circle cx="546.95" cy="256.30" r="1.35" fill="#6d48b8"/><circle cx="546.81" cy="254.50" r="1.35" fill="#7046b7"/><circle cx="547.14" cy="257.20" r="1.35" fill="#6c49b8"/><circle cx="546.97" cy="253.60" r="1.35" fill="#6b4ab9"/><circle cx="548.42" cy="255.40" r="1.35" fill="#644ebb"/><circle cx="548.79" cy="256.30" r="1.35" fill="#5d53be"/><circle cx="548.79" cy="254.50" r="1.35" fill="#6250bc"/><circle cx="550.40" cy="255.40" r="1.35" fill="#5f52bd"/><circle cx="550.02" cy="256.30" r="1.35" fill="#654dbb"/><circle cx="551.53" cy="255.40" r="1.35" fill="#5f52bd"/><circle cx="551.51" cy="256.30" r="1.35" fill="#5a55be"/><circle cx="551.65" cy="254.50" r="1.35" fill="#5c54be"/><circle cx="553.13" cy="255.40" r="1.35" fill="#5459c1"/><circle cx="552.70" cy="256.30" r="1.35" fill="#5459c1"/><circle cx="552.64" cy="254.50" r="1.35" fill="#535ac1"/><circle cx="553.99" cy="255.40" r="1.35" fill="#515bc2"/><circle cx="554.24" cy="254.50" r="1.35" fill="#505cc2"/><circle cx="558.00" cy="255.40" r="1.35" fill="#366ecb"/><circle cx="566.00" cy="255.40" r="1.35" fill="#3271cd"/><circle cx="569.60" cy="255.40" r="1.35" fill="#3271cd"/>
<line x1="382.9" y1="282" x2="636.5" y2="282" stroke="#666" stroke-width="1"/>
<line x1="388.35" y1="282" x2="388.35" y2="283.6" stroke="#666" stroke-width="0.7"/>
<text x="388.35" y="293.9" font-size="8.2" text-anchor="middle" fill="#000">-5</text>
<line x1="418.20" y1="282" x2="418.20" y2="283.6" stroke="#666" stroke-width="0.7"/>
<text x="418.20" y="293.9" font-size="8.2" text-anchor="middle" fill="#000">-4</text>
<line x1="448.05" y1="282" x2="448.05" y2="283.6" stroke="#666" stroke-width="0.7"/>
<text x="448.05" y="293.9" font-size="8.2" text-anchor="middle" fill="#000">-3</text>
<line x1="477.90" y1="282" x2="477.90" y2="283.6" stroke="#666" stroke-width="0.7"/>
<text x="477.90" y="293.9" font-size="8.2" text-anchor="middle" fill="#000">-2</text>
<line x1="507.75" y1="282" x2="507.75" y2="283.6" stroke="#666" stroke-width="0.7"/>
<text x="507.75" y="293.9" font-size="8.2" text-anchor="middle" fill="#000">-1</text>
<line x1="537.60" y1="282" x2="537.60" y2="283.6" stroke="#666" stroke-width="0.7"/>
<text x="537.60" y="293.9" font-size="8.2" text-anchor="middle" fill="#000">0</text>
<line x1="567.45" y1="282" x2="567.45" y2="283.6" stroke="#666" stroke-width="0.7"/>
<text x="567.45" y="293.9" font-size="8.2" text-anchor="middle" fill="#000">1</text>
<line x1="597.30" y1="282" x2="597.30" y2="283.6" stroke="#666" stroke-width="0.7"/>
<text x="597.30" y="293.9" font-size="8.2" text-anchor="middle" fill="#000">2</text>
<line x1="627.15" y1="282" x2="627.15" y2="283.6" stroke="#666" stroke-width="0.7"/>
<text x="627.15" y="293.9" font-size="8.2" text-anchor="middle" fill="#000">3</text>
<text x="509.6" y="307.2" font-size="10.45" text-anchor="middle" fill="#000">SHAP value</text>
<text x="350.2" y="207.7" font-size="10.9" fill="#000">VM</text><text x="367.2" y="210.9" font-size="6.3" fill="#000">OI</text>
<text x="350.2" y="233.7" font-size="10.9" fill="#000">VM</text><text x="367.3" y="236.9" font-size="6.3" fill="#000">AI</text>
<text x="374.2" y="259.9" font-size="10.7" text-anchor="end" fill="#000">Mxa</text>
<defs><linearGradient id="cb" x1="0" y1="0" x2="0" y2="1"><stop offset="0" stop-color="#f01a5a"/><stop offset="0.5" stop-color="#8a3aad"/><stop offset="0.75" stop-color="#4f62c2"/><stop offset="1" stop-color="#3680cf"/></linearGradient></defs>
<rect x="652.4" y="177.5" width="4.8" height="104.3" fill="url(#cb)"/>
<text x="660.8" y="180.5" font-size="7" fill="#000">High</text>
<text x="661.7" y="285.0" font-size="7.1" fill="#000">Low</text>
<text transform="translate(682.4,229.2) rotate(-90)" font-size="10.5" text-anchor="middle" fill="#000">Feature value</text>
</g>
</svg>
</body></html>
